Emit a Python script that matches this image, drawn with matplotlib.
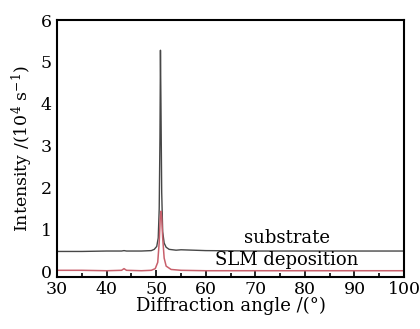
import matplotlib
matplotlib.use("Agg")
from matplotlib import pyplot as plt
from matplotlib.ticker import MultipleLocator

# substrate pattern
sub_angle = [30, 35, 40, 43, 43.5, 44, 47, 49, 49.6, 50.1, 50.4, 50.6, 50.75,
             50.85, 50.95, 51.1, 51.3, 51.6, 52.0, 52.6, 54, 55, 60, 70, 80, 90, 100]
sub_int = [0.48, 0.48, 0.49, 0.49, 0.50, 0.49, 0.49, 0.50, 0.53, 0.60, 0.80, 1.5, 3.2,
           5.28, 4.0, 1.9, 0.95, 0.68, 0.58, 0.53, 0.51, 0.52, 0.50, 0.49, 0.49, 0.49, 0.49]

# SLM deposition pattern
slm_angle = [30, 35, 40, 43, 43.5, 44, 47, 49, 49.8, 50.3, 50.6, 50.8, 50.95,
             51.1, 51.3, 51.6, 52, 53, 55, 60, 70, 80, 90, 100]
slm_int = [0.03, 0.03, 0.02, 0.03, 0.07, 0.03, 0.02, 0.03, 0.07, 0.22, 0.7, 1.25, 1.44,
           1.3, 0.8, 0.32, 0.13, 0.05, 0.03, 0.02, 0.02, 0.02, 0.02, 0.02]

plt.rcParams['font.family'] = ['DejaVu Serif']
plt.rcParams['mathtext.fontset'] = 'dejavuserif'

fig = plt.figure(figsize=(4.2, 3.29), dpi=100)
ax = fig.add_axes([0.136, 0.158, 0.826, 0.781])

ax.plot(sub_angle, sub_int, color='#474747', linewidth=1.0)
ax.plot(slm_angle, slm_int, color='#c8606c', linewidth=1.1)

ax.text(76.4, 0.79, 'substrate', ha='center', va='center', fontsize=13)
ax.text(76.4, 0.27, 'SLM deposition', ha='center', va='center', fontsize=13)

ax.set_xlim(30, 100)
ax.set_ylim(-0.13, 6)
ax.xaxis.set_major_locator(MultipleLocator(10))
ax.xaxis.set_minor_locator(MultipleLocator(5))
ax.yaxis.set_major_locator(MultipleLocator(1))
ax.tick_params(axis='x', which='major', direction='in', length=5, width=1.2, labelsize=12.5, pad=3)
ax.tick_params(axis='x', which='minor', direction='in', length=3, width=1.2)
ax.tick_params(axis='y', which='major', length=0, labelsize=12.5, pad=4)
for s in ax.spines.values():
    s.set_linewidth(1.5)

ax.set_xlabel('Diffraction angle /(°)', fontsize=13, labelpad=-1)
ax.set_ylabel('Intensity /(10$^4$ s$^{-1}$)', fontsize=12.5, labelpad=4)

fig.savefig('out.png', dpi=100)
